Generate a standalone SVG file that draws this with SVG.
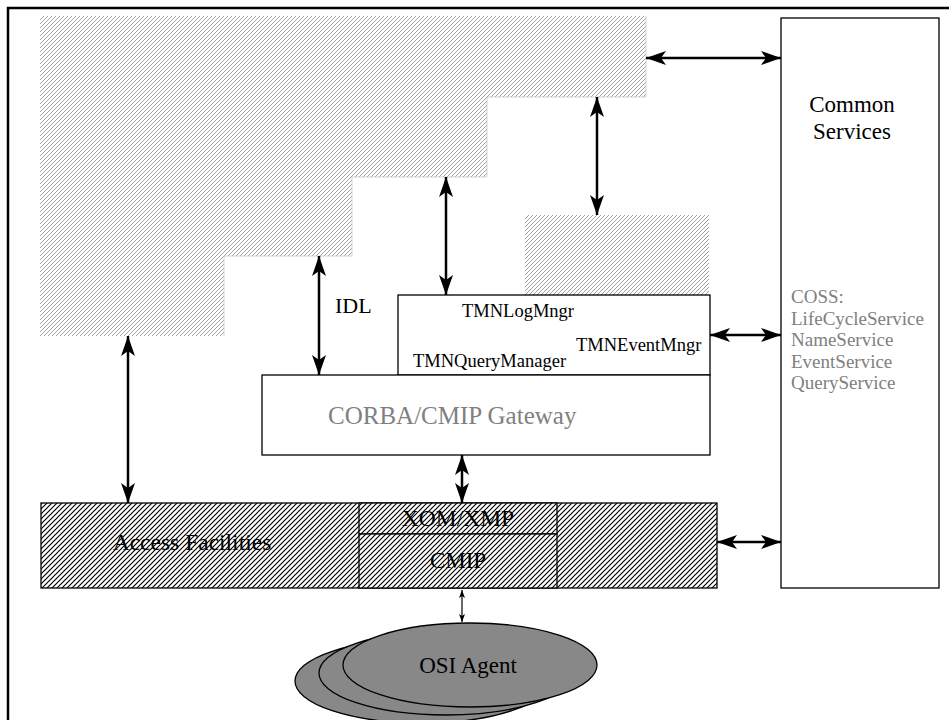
<svg xmlns="http://www.w3.org/2000/svg" width="949" height="720" viewBox="0 0 949 720">
<style>
  text { font-family: "Liberation Serif", "Times New Roman", serif; }
  .box { fill: #ffffff; stroke: #000000; stroke-width: 1.3; }
  .dark { fill: url(#hatchDark); stroke: #000000; stroke-width: 1.3; }
  .light { fill: url(#hatchLight); stroke: none; }
  .arrow { stroke: #000000; stroke-width: 2.5; fill: none; marker-start: url(#head); marker-end: url(#head); }
  .thin { stroke: #000000; stroke-width: 1.2; fill: none; marker-start: url(#headSmall); marker-end: url(#headSmall); }
  .ell { fill: #888888; stroke: #000000; stroke-width: 1.3; }
  .gray { fill: #808080; }
</style>
<defs>
  <pattern id="hatchLight" patternUnits="userSpaceOnUse" width="4" height="4">
    <path d="M-1,1 L1,-1 M0,4 L4,0 M3,5 L5,3" stroke="#a0a0a0" stroke-width="1"/>
  </pattern>
  <pattern id="hatchDark" patternUnits="userSpaceOnUse" width="5" height="5">
    <rect width="5" height="5" fill="#ffffff"/>
    <path d="M-1,1 L1,-1 M0,5 L5,0 M4,6 L6,4" stroke="#000000" stroke-width="1.2"/>
  </pattern>
  <marker id="head" viewBox="0 0 20 14" refX="20" refY="7" markerWidth="20" markerHeight="14" markerUnits="userSpaceOnUse" orient="auto-start-reverse">
    <path d="M0,0 L20,7 L0,14 L5,7 z" fill="#000000"/>
  </marker>
  <marker id="headSmall" viewBox="0 0 8 6" refX="8" refY="3" markerWidth="8" markerHeight="6" markerUnits="userSpaceOnUse" orient="auto-start-reverse">
    <path d="M0,0 L8,3 L0,6 L2,3 z" fill="#000000"/>
  </marker>
</defs>

<!-- outer frame -->
<path id="frame" d="M8,725 L8,8 L955,8" fill="none" stroke="#000000" stroke-width="2.5"/>

<!-- hatched upper region -->
<g id="upperRegion">
  <polygon class="light" points="40,16 646,16 646,97 487,97 487,177 352,177 352,256 224,256 224,336 40,336"/>
  <polyline points="646,16 646,97 487,97 487,177 352,177 352,256 224,256 224,336" fill="none" stroke="#c8c8c8" stroke-width="0.8"/>
</g>

<g id="smallRegion">
  <rect class="light" x="525" y="215" width="184" height="80"/>
</g>

<g id="tmnBox">
  <rect class="box" x="398" y="295" width="312" height="80"/>
  <text x="462" y="317" font-size="18.5">TMNLogMngr</text>
  <text x="576" y="351" font-size="18.5">TMNEventMngr</text>
  <text x="413" y="367" font-size="18.5">TMNQueryManager</text>
</g>

<g id="gateway">
  <rect class="box" x="262" y="375" width="448" height="80"/>
  <text class="gray" x="328" y="424" font-size="25">CORBA/CMIP Gateway</text>
</g>

<g id="commonServices">
  <rect class="box" x="781" y="18" width="158" height="570"/>
  <text x="852" y="112" font-size="23" text-anchor="middle">Common</text>
  <text x="852" y="139" font-size="23" text-anchor="middle">Services</text>
  <text class="gray" x="791" y="303" font-size="19">COSS:</text>
  <text class="gray" x="791" y="325" font-size="19">LifeCycleService</text>
  <text class="gray" x="791" y="346" font-size="19">NameService</text>
  <text class="gray" x="791" y="368" font-size="19">EventService</text>
  <text class="gray" x="791" y="389" font-size="19">QueryService</text>
</g>

<g id="accessFacilities">
  <rect class="dark" x="41" y="503" width="676" height="85"/>
  <text x="192" y="550" font-size="23.5" text-anchor="middle">Access Facilities</text>
</g>

<g id="xomxmp">
  <rect class="dark" x="359" y="503" width="198" height="31"/>
  <text x="458" y="526" font-size="23.5" text-anchor="middle">XOM/XMP</text>
</g>

<g id="cmip">
  <rect class="dark" x="359" y="534" width="198" height="54"/>
  <text x="458" y="568" font-size="23" text-anchor="middle">CMIP</text>
</g>

<g id="osiAgent">
  <ellipse class="ell" cx="422" cy="681" rx="127" ry="42"/>
  <ellipse class="ell" cx="446" cy="673" rx="127" ry="42"/>
  <ellipse class="ell" cx="470" cy="665" rx="127" ry="42"/>
  <text x="468" y="673" font-size="23" text-anchor="middle">OSI Agent</text>
</g>

<g id="connectors">
  <line class="arrow" x1="646" y1="58" x2="781" y2="58"/>
  <line class="arrow" x1="597" y1="97" x2="597" y2="215"/>
  <line class="arrow" x1="446" y1="177" x2="446" y2="295"/>
  <line class="arrow" x1="319" y1="256" x2="319" y2="375"/>
  <line class="arrow" x1="128" y1="336" x2="128" y2="503"/>
  <line class="arrow" x1="710" y1="335" x2="781" y2="335"/>
  <line class="arrow" x1="462" y1="455" x2="462" y2="503"/>
  <line class="arrow" x1="717" y1="542" x2="781" y2="542"/>
  <line class="thin" x1="462" y1="590" x2="462" y2="622"/>
  <text x="335" y="313" font-size="22">IDL</text>
</g>
</svg>
